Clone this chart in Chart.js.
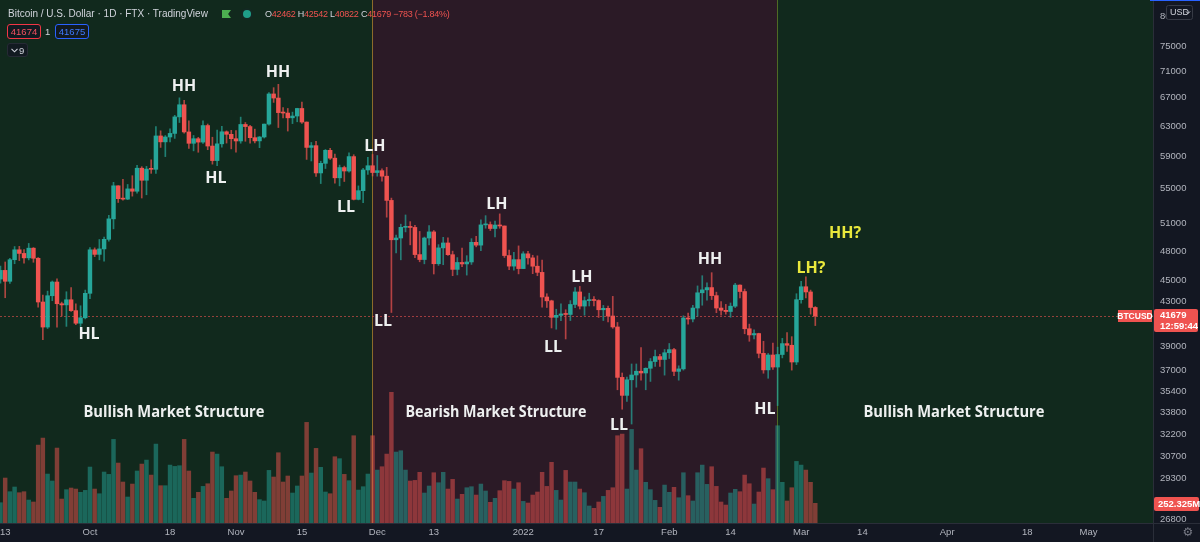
<!DOCTYPE html>
<html>
<head>
<meta charset="utf-8">
<title>Bitcoin / U.S. Dollar - Market Structure</title>
<script src="https://cdn.jsdelivr.net/npm/chart.js@4.4.1/dist/chart.umd.min.js"></script>
<style>
html,body{margin:0;padding:0;background:#131722;overflow:hidden;}
#wrap{position:relative;width:1200px;height:542px;font-family:"Liberation Sans",Arial,sans-serif;}
#c{position:absolute;left:0;top:0;}
.abs{position:absolute;white-space:nowrap;}
#title{left:8px;top:8px;font-size:10px;line-height:12px;color:#d1d4dc;}
#flag{left:222px;top:10px;width:9px;height:8px;background:#4caf50;clip-path:polygon(0 0,100% 0,68% 50%,100% 100%,0 100%);}
#dot{left:243px;top:10px;width:8px;height:8px;border-radius:50%;background:#1f9e89;box-shadow:0 0 0 2px rgba(20,40,35,0.9);}
#ohlc{left:265px;top:8px;font-size:9px;line-height:12px;color:#d1d4dc;letter-spacing:-0.25px;}
#ohlc .v{color:#ef5350;}
.pbox{top:24px;height:13px;width:32px;border-radius:3px;font-size:9.5px;line-height:13px;text-align:center;background:rgba(19,23,34,0.85);}
#bid{left:7px;border:1px solid #f23645;color:#f7525f;}
#ask{left:55px;border:1px solid #2962ff;color:#3f7bff;}
#qty{left:45px;top:25px;font-size:9.5px;line-height:13px;color:#d1d4dc;}
#ind{left:7px;top:43px;width:21px;height:14px;border-radius:3px;background:rgba(19,23,34,0.85);border:1px solid #262a35;font-size:9.5px;line-height:14px;color:#d1d4dc;box-sizing:border-box;}
#ind svg{position:absolute;left:3px;top:4px;}
#ind span{position:absolute;left:11px;top:0;}
</style>
</head>
<body>
<div id="wrap">
  <canvas id="c" width="1200" height="542"></canvas>
  <div id="title" class="abs">Bitcoin / U.S. Dollar · 1D · FTX · TradingView</div>
  <div id="flag" class="abs"></div>
  <div id="dot" class="abs"></div>
  <div id="ohlc" class="abs"></div>
  <div id="bid" class="abs pbox">41674</div>
  <div id="qty" class="abs">1</div>
  <div id="ask" class="abs pbox">41675</div>
  <div id="ind" class="abs"><svg width="7" height="5" viewBox="0 0 7 5"><path d="M0.5 0.8 L3.5 3.8 L6.5 0.8" stroke="#d1d4dc" stroke-width="1.1" fill="none"/></svg><span>9</span></div>
</div>
<script>
// ---------------- DATA ----------------
const startDate = '2021-09-12';           // first daily candle
const bearStart = '2021-11-30';           // boundary bullish -> bearish
const bearEnd   = '2022-02-24';           // boundary bearish -> bullish

const open = [
45170,46030,44950,47110,48140,47760,47300,48310,47260,42970,40690,43560,44880,42810,42700,43180,42170,41030,41520,
43790,48140,47660,48230,49250,51490,55330,53800,53750,54960,54680,57490,56000,57380,57350,61670,60880,61530,62010,64280,66000,62210,60690,61300,60850,63080,60330,58450,60620,62230,61890,
61300,61000,63230,62940,61440,61010,61530,63280,67570,66970,64880,64820,64150,64400,65470,63560,60150,60380,56900,58100,59770,58760,56300,57570,57140,58960,53720,54750,57270,57800,
56950,57180,56500,53600,49200,49390,50550,50620,50540,47640,47130,49390,50050,46700,48340,48860,47630,46130,46830,46680,46880,48930,48630,50820,50850,50420,50800,50700,47540,46460,47120,
46210,47720,47300,46450,45830,43440,43080,41560,41740,41870,41820,42740,43920,42590,43100,43180,43110,42250,42380,41680,40700,36470,35070,36280,36660,36960,36820,37200,37750,38160,37920,
38480,38740,36950,37150,41500,41410,42410,43840,44120,44340,43570,42410,42200,42090,42580,44580,43960,40540,40000,40120,38430,37070,38290,37300,38330,39250,39110,37710,
43190,44420,43920,42462];

const high = [
46460,46880,47250,48480,48500,48160,48810,48370,47330,43620,44000,44980,45200,42960,43940,44350,42790,42620,44100,
48360,48340,49230,49500,51890,55750,55340,56100,55490,56560,57840,57680,57720,58550,62950,62360,61720,62620,64500,67000,66650,63720,61730,61490,63720,63290,61500,62450,62960,62350,62430,
62400,64250,63500,63100,62590,61590,63290,67790,68500,69000,65580,65470,64950,65500,66400,63580,60800,60960,58370,59880,60040,59300,57880,57750,59430,59200,55320,57460,58870,59230,
59100,57400,57600,53870,49700,50900,51930,51180,50780,50100,49490,50750,50200,48680,49460,49420,48000,47330,48330,47530,49320,49570,51370,51850,51150,51250,52050,50700,48120,47880,48550,
47940,47990,47570,47510,47070,43750,43140,42300,42800,42250,43100,44350,44450,43450,43800,43480,43180,42650,42600,43500,41100,36820,36500,37550,37550,38920,37230,38000,38700,38350,38750,
39260,38850,37400,41700,41950,42650,44500,45500,44800,45800,43900,43000,42750,42880,44750,44600,44200,40950,40450,40150,39450,38420,39300,38950,39700,40200,39850,43750,
44950,45400,44100,42542];

const low = [
44760,43370,44750,46700,47020,46750,47090,46850,42500,39580,40560,43090,40680,41680,40750,42100,40900,40750,41420,
43290,47430,47100,46950,49050,50380,53360,53620,53690,54100,54450,53880,54260,56850,56850,60150,58960,60880,61340,63500,62030,60030,59700,59520,60660,59850,58000,57820,60170,60720,59960,
59520,60700,60960,60700,60740,60120,61390,63130,66340,62810,64120,62330,63350,63600,63390,58600,58400,56480,55600,57450,58600,55650,55320,55850,56990,53650,53660,53330,56720,56520,
56500,55900,51680,42000,47800,47100,50050,48660,47330,46900,46690,48650,45670,46530,46600,47560,45500,45580,46400,45560,46630,48450,48060,50450,50200,49500,50450,47340,46100,46060,45680,
46200,46650,45700,45500,42500,42460,40610,40500,41250,39650,41270,42450,42320,41750,42600,42600,41550,41270,41150,40580,35500,34030,34620,32950,35700,36250,35500,36150,37350,37350,36650,
38000,36600,36250,37050,40950,41150,41650,42670,43150,43200,41980,41750,41850,41570,42450,43350,40100,39450,39650,38050,36800,36400,37100,34300,38050,38600,37050,37500,
42850,43350,41850,40822];

const close = [
46030,44950,47110,48140,47760,47300,48310,47260,42970,40690,43560,44880,42810,42700,43180,42170,41030,41520,43790,
48140,47660,48230,49250,51490,55330,53800,53750,54960,54680,57490,56000,57380,57350,61670,60880,61530,62010,64280,66000,62210,60690,61300,60850,63080,60330,58450,60620,62230,61890,61300,
61000,63230,62940,61440,61010,61530,63280,67570,66970,64880,64820,64150,64400,65470,63560,60150,60380,56900,58100,59770,58760,56300,57570,57140,58960,53720,54750,57270,57800,56950,
57180,56500,53600,49200,49390,50550,50620,50540,47640,47130,49390,50050,46700,48340,48860,47630,46130,46830,46680,46880,48930,48630,50820,50850,50420,50800,50700,47540,46460,47120,46210,
47720,47300,46450,45830,43440,43080,41560,41740,41870,41820,42740,43920,42590,43100,43180,43110,42250,42380,41680,40700,36470,35070,36280,36660,36960,36820,37200,37750,38160,37920,38480,
38740,36950,37150,41500,41410,42410,43840,44120,44340,43570,42410,42200,42090,42580,44580,43960,40540,40000,40120,38430,37070,38290,37300,38330,39250,39110,37710,43190,
44420,43920,42462,41679];

// volume in millions (USD)
const volume = [
260,576,401,461,388,401,294,269,998,1088,627,538,960,307,427,448,435,393,418,
717,435,375,653,623,1071,768,525,333,499,666,755,806,614,1011,478,478,742,725,734,1071,666,316,393,469,503,909,883,721,316,410,
606,614,653,538,393,299,282,674,589,900,525,602,384,474,602,1289,640,956,713,397,375,849,824,623,542,1118,422,465,627,1118,
678,721,883,1673,909,926,678,538,546,649,384,474,644,516,649,435,559,307,367,452,465,358,499,410,265,316,414,542,533,435,516,
277,256,358,397,649,469,777,418,294,674,525,525,435,388,218,188,269,341,418,452,1118,1139,435,1199,678,952,521,427,290,201,486,
393,457,324,644,350,282,644,742,495,721,469,269,230,384,431,401,614,503,243,397,704,568,427,1246,521,282,452,789,
742,678,521,252.325];

const xTickDates  = ['2021-09-13','2021-10-01','2021-10-18','2021-11-01','2021-11-15','2021-12-01','2021-12-13','2022-01-01','2022-01-17','2022-02-01','2022-02-14','2022-03-01','2022-03-14','2022-04-01','2022-04-18','2022-05-01'];
const xTickLabels = ['13','Oct','18','Nov','15','Dec','13','2022','17','Feb','14','Mar','14','Apr','18','May'];
const priceTicks  = [80000,75000,71000,67000,63000,59000,55000,51000,48000,45000,43000,39000,37000,35400,33800,32200,30700,29300,26800];

// structure labels: [text, day offset from startDate, price]
const swingLabels = [
  ['HL', 18.8, 40000], ['HH', 38.96, 68750], ['HL', 45.75, 56280], ['HH', 58.92, 70880],
  ['LL', 73.36, 52840], ['LH', 79.51, 60340], ['LL', 81.21, 41150], ['LH', 105.41, 53180],
  ['LL', 117.3, 38960], ['LH', 123.46, 45370], ['LL', 131.32, 32880], ['HH', 150.64, 47090],
  ['HL', 162.31, 34040]
];
const projectedLabels = [['LH?', 172.08, 46270], ['HH?', 179.3, 49930]];
const zoneLabels = [
  ['Bullish Market Structure', 36.84, 33820],
  ['Bearish Market Structure', 105.2, 33820],
  ['Bullish Market Structure', 202.44, 33820]
];

// ---------------- HELPERS ----------------
const DAY = 86400000;
function toUTC(s){ const [y,m,d] = s.split('-').map(Number); return Date.UTC(y, m-1, d); }
const t0 = toUTC(startDate);
function dayIndex(s){ return Math.round((toUTC(s) - t0) / DAY); }
const dates = open.map((_, i) => new Date(t0 + i*DAY).toISOString().slice(0,10));
const xTickIdx = xTickDates.map(dayIndex);
const last = close.length - 1;

const UP = '#26a69a', DN = '#ef5350';
const UPW = 'rgba(38,166,154,0.7)', DNW = 'rgba(239,83,80,0.7)';
const UPV = 'rgba(38,166,154,0.5)', DNV = 'rgba(239,83,80,0.5)';
const isUp = close.map((c, i) => c >= open[i]);

// legend text from data
(function(){
  const chg = close[last] - close[last-1];
  const pct = chg / close[last-1] * 100;
  const m = v => (v < 0 ? '\u2212' : '+') + Math.abs(v);
  document.getElementById('ohlc').innerHTML =
    'O<span class="v">' + open[last] + '</span> H<span class="v">' + high[last] +
    '</span> L<span class="v">' + low[last] + '</span> C<span class="v">' + close[last] +
    ' ' + m(chg) + ' (' + (pct < 0 ? '\u2212' : '+') + Math.abs(pct).toFixed(2) + '%)</span>';
})();

// ---------------- PLUGINS ----------------
const FONT = '"Liberation Sans", Arial, sans-serif';
const bgPlugin = {
  id: 'structureBg',
  beforeDraw(chart){
    const {ctx, chartArea: a, scales} = chart;
    ctx.save();
    ctx.fillStyle = '#131722';
    ctx.fillRect(0, 0, chart.width, chart.height);
    ctx.fillStyle = '#11291d';
    ctx.fillRect(a.left, a.top, a.right - a.left, a.bottom - a.top);
    const x1 = scales.x.getPixelForValue(dayIndex(bearStart));
    const x2 = scales.x.getPixelForValue(dayIndex(bearEnd));
    ctx.fillStyle = '#2b1a26';
    ctx.fillRect(x1, a.top, x2 - x1, a.bottom - a.top);
    ctx.fillStyle = '#8c6b2a';
    ctx.fillRect(Math.floor(x1), a.top, 1, a.bottom - a.top);
    ctx.fillStyle = '#4f6a24';
    ctx.fillRect(Math.floor(x2), a.top, 1, a.bottom - a.top);
    // last price dotted line
    const yp = Math.round(scales.y.getPixelForValue(close[last])) + 0.5;
    ctx.strokeStyle = 'rgba(239,83,80,0.6)';
    ctx.lineWidth = 1;
    ctx.setLineDash([2, 2]);
    ctx.beginPath(); ctx.moveTo(a.left, yp); ctx.lineTo(a.right, yp); ctx.stroke();
    ctx.restore();
  }
};

function roundRect(ctx, x, y, w, h, r){
  ctx.beginPath();
  ctx.moveTo(x+r, y); ctx.lineTo(x+w-r, y); ctx.quadraticCurveTo(x+w, y, x+w, y+r);
  ctx.lineTo(x+w, y+h-r); ctx.quadraticCurveTo(x+w, y+h, x+w-r, y+h);
  ctx.lineTo(x+r, y+h); ctx.quadraticCurveTo(x, y+h, x, y+h-r);
  ctx.lineTo(x, y+r); ctx.quadraticCurveTo(x, y, x+r, y); ctx.closePath();
}

const overlayPlugin = {
  id: 'overlay',
  afterDraw(chart){
    const {ctx, chartArea: a, scales} = chart;
    const xs = scales.x, ys = scales.y, yv = scales.yVol;
    ctx.save();
    // separators
    ctx.fillStyle = '#2a2e39';
    ctx.fillRect(Math.round(a.right), 0, 1, chart.height);
    ctx.fillRect(0, Math.round(a.bottom), chart.width, 1);
    // top-right accent
    ctx.fillStyle = '#2962ff';
    ctx.fillRect(1150, 0, 50, 1);

    // structure labels
    ctx.textAlign = 'center';
    ctx.textBaseline = 'middle';
    ctx.font = 'bold 16px "Open Sans", sans-serif';
    ctx.fillStyle = '#eef0f0';
    swingLabels.forEach(([t, i, p]) => ctx.fillText(t, xs.getPixelForValue(i), ys.getPixelForValue(p)));
    ctx.fillStyle = '#e9e83c';
    projectedLabels.forEach(([t, i, p]) => ctx.fillText(t, xs.getPixelForValue(i), ys.getPixelForValue(p)));
    ctx.fillStyle = '#eef0f0';
    zoneLabels.forEach(([t, i, p]) => ctx.fillText(t, xs.getPixelForValue(i), ys.getPixelForValue(p), 181));

    // last price labels
    const yp = Math.round(ys.getPixelForValue(close[last]));
    ctx.fillStyle = '#ef5350';
    ctx.fillRect(1118, yp - 6, 34, 12);
    roundRect(ctx, a.right + 1, yp - 7, 44, 23, 2); ctx.fill();
    ctx.fillStyle = '#ffffff';
    ctx.font = 'bold 8.5px ' + FONT;
    ctx.fillText('BTCUSD', 1135, yp + 0.5);
    ctx.textAlign = 'left';
    ctx.font = 'bold 9.5px ' + FONT;
    ctx.fillText(String(close[last]), a.right + 7, yp - 1);
    ctx.fillText('12:59:44', a.right + 7, yp + 10);
    // volume label
    const yvp = Math.round(yv.getPixelForValue(volume[last]));
    ctx.fillStyle = '#ef5350';
    roundRect(ctx, a.right + 1, yvp - 6, 45, 14, 2); ctx.fill();
    ctx.fillStyle = '#ffffff';
    ctx.fillText(volume[last].toFixed(3) + 'M', a.right + 5, yvp + 1);

    // currency button
    ctx.fillStyle = '#131722';
    roundRect(ctx, 1166.5, 5.5, 26, 14, 2); ctx.fill();
    ctx.strokeStyle = '#363a45'; ctx.lineWidth = 1; ctx.stroke();
    ctx.fillStyle = '#d1d4dc';
    ctx.font = '9px ' + FONT;
    ctx.fillText('USD', 1170, 13);
    ctx.strokeStyle = '#d1d4dc';
    ctx.beginPath(); ctx.moveTo(1186, 11.5); ctx.lineTo(1188, 13.5); ctx.lineTo(1190, 11.5); ctx.stroke();

    // settings gear
    ctx.fillStyle = '#787b86';
    ctx.textAlign = 'center';
    ctx.font = '12px "DejaVu Sans", sans-serif';
    ctx.fillText('\u2699', 1188, 533);
    ctx.restore();
  }
};

function noPad(s){ s.paddingLeft = 0; s.paddingRight = 0; s.paddingTop = 0; s.paddingBottom = 0; }

// ---------------- CHART ----------------
const idx = dates.map((_, i) => i);
new Chart(document.getElementById('c'), {
  type: 'bar',
  data: {
    datasets: [
      {
        label: 'Body', yAxisID: 'y', order: 0, grouped: false,
        data: idx.map(i => ({x: i, y: [open[i], close[i]]})),
        backgroundColor: isUp.map(u => u ? UP : DN),
        barThickness: 3.8, minBarLength: 1, borderWidth: 0
      },
      {
        label: 'Wick', yAxisID: 'y', order: 1, grouped: false,
        data: idx.map(i => ({x: i, y: [low[i], high[i]]})),
        backgroundColor: isUp.map(u => u ? UPW : DNW),
        barThickness: 1, borderWidth: 0
      },
      {
        label: 'Volume', yAxisID: 'yVol', order: 2, grouped: false,
        data: idx.map(i => ({x: i, y: volume[i]})),
        backgroundColor: isUp.map(u => u ? UPV : DNV),
        barThickness: 3.8, borderWidth: 0
      }
    ]
  },
  options: {
    responsive: false,
    animation: false,
    devicePixelRatio: 1,
    layout: {padding: 0},
    plugins: {legend: {display: false}, tooltip: {enabled: false}},
    scales: {
      x: {
        type: 'linear', min: -0.1, max: 244.7, offset: false, bounds: 'data',
        grid: {display: false, drawTicks: false}, border: {display: false},
        afterBuildTicks: s => { s.ticks = xTickIdx.map(v => ({value: v})); },
        afterFit: s => { s.height = 19; noPad(s); },
        ticks: {
          autoSkip: false, maxRotation: 0, padding: 4, color: '#b2b5be',
          font: {family: FONT, size: 9.5},
          callback: v => { const k = xTickIdx.indexOf(v); return k >= 0 ? xTickLabels[k] : ''; }
        }
      },
      y: {
        type: 'logarithmic', position: 'right', min: 26567, max: 82895, bounds: 'data',
        grid: {display: false, drawTicks: false}, border: {display: false},
        afterBuildTicks: s => { s.ticks = priceTicks.map(v => ({value: v})); },
        afterFit: s => { s.width = 47; noPad(s); },
        ticks: {
          autoSkip: false, padding: 7, color: '#b2b5be',
          font: {family: FONT, size: 9.5},
          callback: v => String(v)
        }
      },
      yVol: {type: 'linear', display: false, min: 0, max: 6700, afterFit: noPad}
    }
  },
  plugins: [bgPlugin, overlayPlugin]
});
</script>
</body>
</html>
